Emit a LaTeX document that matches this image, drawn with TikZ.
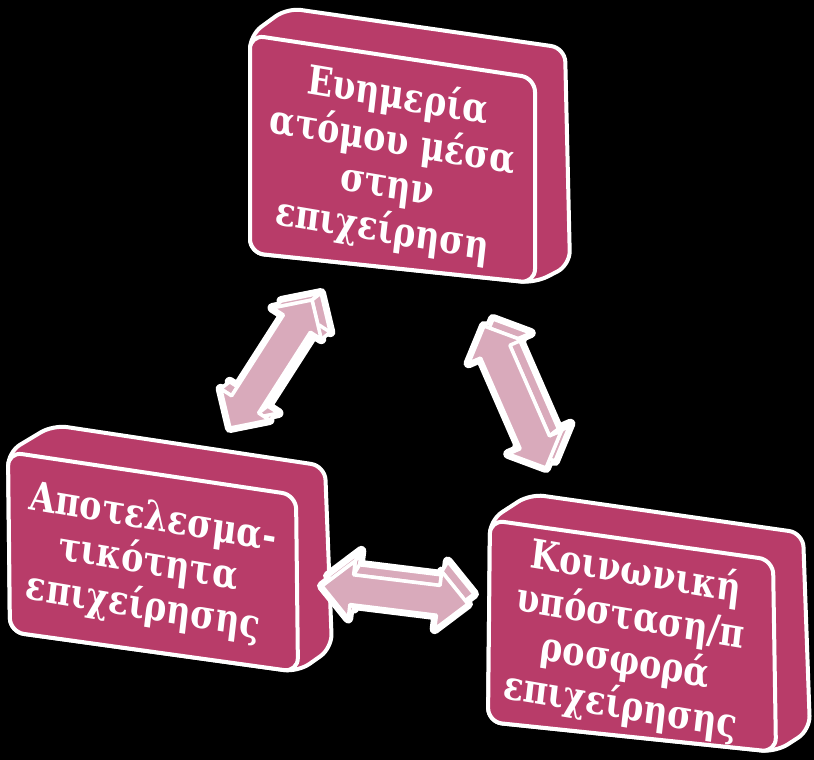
\documentclass[tikz,border=0pt]{standalone}
\usepackage{fontspec}
\setmainfont{DejaVu Serif}
\usetikzlibrary{calc}
\definecolor{boxc}{HTML}{B83C69}
\definecolor{arrc}{HTML}{D9AABB}
\tikzset{
  boxface/.style={fill=boxc, draw=white, line width=4pt, rounded corners=14pt, line join=round},
  lbl/.style={text=white, align=center, inner sep=0pt, xscale=0.93, yscale=1.12, font=\fontsize{36}{40}\selectfont\bfseries},
  arrhalo/.style={draw=white, line width=10pt, line join=round},
  arrface/.style={fill=arrc, draw=white, line width=3.5pt, line join=round},
}
% #1 tip A, #2 tip B, #3 name, #4 head length, #5 head half width, #6 shaft half width
\newcommand{\dblarrdef}[6]{%
  \coordinate (#3t1) at (#1);
  \coordinate (#3t2) at (#2);
  \coordinate (#3a) at ($(#1)!#4!(#2)$);
  \coordinate (#3b) at ($(#2)!#4!(#1)$);
  \coordinate (#3h1) at ($(#3a)!#5!90:(#2)$);
  \coordinate (#3s1) at ($(#3a)!#6!90:(#2)$);
  \coordinate (#3s2) at ($(#3b)!#6!-90:(#1)$);
  \coordinate (#3h2) at ($(#3b)!#5!-90:(#1)$);
  \coordinate (#3h3) at ($(#3b)!#5!90:(#1)$);
  \coordinate (#3s3) at ($(#3b)!#6!90:(#1)$);
  \coordinate (#3s4) at ($(#3a)!#6!-90:(#2)$);
  \coordinate (#3h4) at ($(#3a)!#5!-90:(#2)$);
}
\newcommand{\arrpoly}[2]{($(#1t1)+#2$) -- ($(#1h1)+#2$) -- ($(#1s1)+#2$) -- ($(#1s2)+#2$) -- ($(#1h2)+#2$) -- ($(#1t2)+#2$) -- ($(#1h3)+#2$) -- ($(#1s3)+#2$) -- ($(#1s4)+#2$) -- ($(#1h4)+#2$) -- cycle}
\newcommand{\drawdbl}[2]{%
  \draw[arrhalo] \arrpoly{#1}{#2};
  \draw[arrhalo] \arrpoly{#1}{(0,0)};
  \draw[arrface] \arrpoly{#1}{#2};
  \foreach \p/\q in {t1/h1,h1/s1,s1/s2,s2/h2,h2/t2,t2/h3,h3/s3,s3/s4,s4/h4,h4/t1}{
    \draw[arrface] (#1\p) -- (#1\q) -- ($(#1\q)+#2$) -- ($(#1\p)+#2$) -- cycle;
  }
  \draw[arrface] \arrpoly{#1}{(0,0)};
}
\begin{document}
\begin{tikzpicture}[x=1pt,y=-1pt]
\fill[black] (0,0) rectangle (814,760);
\useasboundingbox (0,0) rectangle (814,760);

% top box
\draw[boxface] (250,35) -- (287,8) -- (565,48) -- (570,265) -- (535,283) -- (250,253) -- cycle;
\draw[boxface] (250,35) -- (535,78) -- (535,283) -- (250,253) -- cycle;
\node[lbl, rotate=-8] (top) at (390,164) {Ευημερία\\ατόμου μέσα\\στην\\επιχείρηση};

% left box
\draw[boxface] (8,452) -- (53,425) -- (325,466) -- (332,648) -- (298,672) -- (10,632) -- cycle;
\draw[boxface] (8,452) -- (296,495) -- (298,672) -- (10,632) -- cycle;
\node[lbl, rotate=-8] (left) at (148,564) {Αποτελεσμα-\\τικότητα\\επιχείρησης};

% right box
\draw[boxface] (490,520) -- (530,494) -- (803,533) -- (810,730) -- (776,752) -- (488,722) -- cycle;
\draw[boxface] (490,520) -- (773,560) -- (776,752) -- (488,722) -- cycle;
\node[lbl, rotate=-8] (right) at (628,640) {Κοινωνική\\υπόσταση/π\\ροσφορά\\επιχείρησης};

% arrows
\dblarrdef{230,428}{312,300}{aa}{28pt}{29pt}{16pt}
\drawdbl{aa}{(9,-7)}
\dblarrdef{484,326}{546,468}{bb}{28pt}{29pt}{16pt}
\drawdbl{bb}{(9,-7)}
\dblarrdef{322,586}{468,604}{cc}{30pt}{29pt}{15pt}
\drawdbl{cc}{(6,-10)}
\end{tikzpicture}
\end{document}
